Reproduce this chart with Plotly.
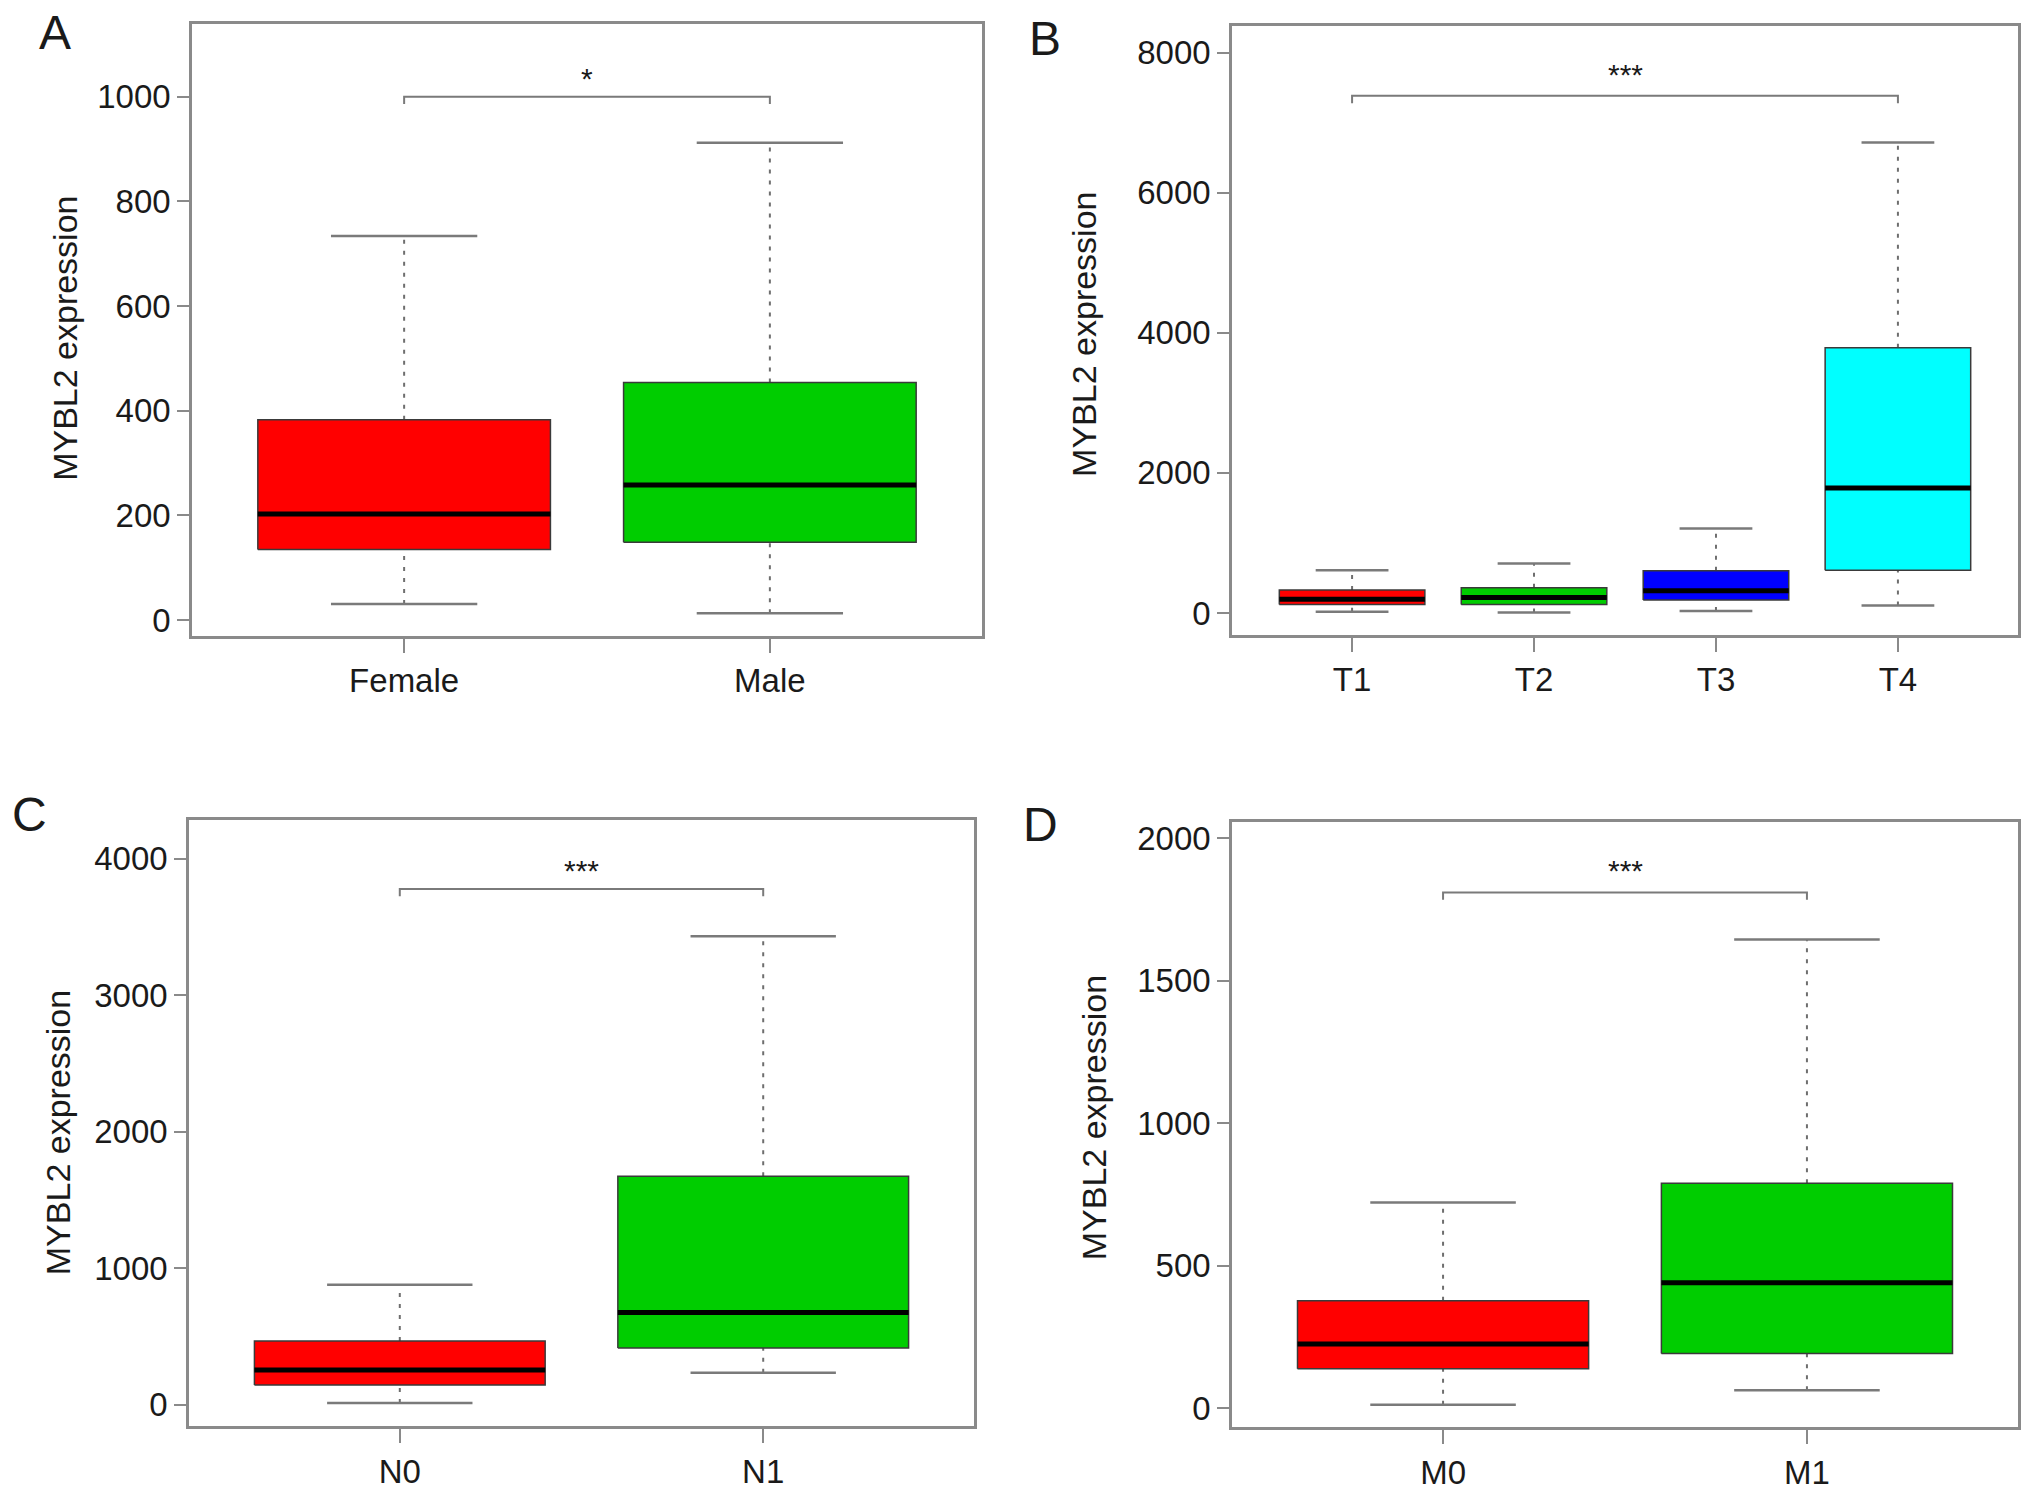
import plotly.graph_objects as go

# ---------------- data ----------------
sex_cats = ["Female", "Male"]
sex_lower = [31, 13]
sex_q1 = [135, 149]
sex_median = [203, 258]
sex_q3 = [383, 454]
sex_upper = [734, 912]

t_cats = ["T1", "T2", "T3", "T4"]
t_lower = [19, 9, 28, 109]
t_q1 = [123, 123, 185, 611]
t_median = [195, 223, 318, 1785]
t_q3 = [327, 360, 602, 3786]
t_upper = [612, 707, 1205, 6717]

n_cats = ["N0", "N1"]
n_lower = [14, 236]
n_q1 = [146, 416]
n_median = [256, 676]
n_q3 = [468, 1674]
n_upper = [880, 3431]

m_cats = ["M0", "M1"]
m_lower = [13, 64]
m_q1 = [139, 193]
m_median = [226, 441]
m_q3 = [378, 790]
m_upper = [722, 1645]

# significance brackets: (first index, last index, bracket y, label y, label)
sex_sig = (0, 1, 1000, 1041, "*")
t_sig = (0, 3, 7382, 7728, "***")
n_sig = (0, 1, 3778, 3934, "***")
m_sig = (0, 1, 1810, 1896, "***")

y_ticks_A = [0, 200, 400, 600, 800, 1000]
y_ticks_B = [0, 2000, 4000, 6000, 8000]
y_ticks_C = [0, 1000, 2000, 3000, 4000]
y_ticks_D = [0, 500, 1000, 1500, 2000]

fills2 = ["#FF0000", "#00CD00"]
fills4 = ["#FF0000", "#00CD00", "#0000FF", "#00FFFF"]

W, H = 2032, 1494
FONT = "Liberation Sans, Arial, Helvetica, sans-serif"
GRAY = "#8a8a8a"
TXT = "#1a1a1a"

panels = [
    dict(name="A", cats=sex_cats, lo=sex_lower, q1=sex_q1, me=sex_median, q3=sex_q3, up=sex_upper,
         sig=sex_sig, ticks=y_ticks_A, yr=[-30, 1139], fills=fills2,
         px=(192, 982), py=(22, 636), title_xy=(65, 338), letter_xy=(55, 31)),
    dict(name="B", cats=t_cats, lo=t_lower, q1=t_q1, me=t_median, q3=t_q3, up=t_upper,
         sig=t_sig, ticks=y_ticks_B, yr=[-312, 8380], fills=fills4,
         px=(1232, 2018), py=(24, 635), title_xy=(1084, 334), letter_xy=(1045, 37)),
    dict(name="C", cats=n_cats, lo=n_lower, q1=n_q1, me=n_median, q3=n_q3, up=n_upper,
         sig=n_sig, ticks=y_ticks_C, yr=[-156, 4281], fills=fills2,
         px=(189, 974), py=(821, 1429), title_xy=(58, 1135), letter_xy=(29, 815)),
    dict(name="D", cats=m_cats, lo=m_lower, q1=m_q1, me=m_median, q3=m_q3, up=m_upper,
         sig=m_sig, ticks=y_ticks_D, yr=[-66, 2056], fills=fills2,
         px=(1232, 2018), py=(823, 1430), title_xy=(1094, 1120), letter_xy=(1040, 825)),
]

fig = go.Figure()
layout = dict(width=W, height=H, margin=dict(l=0, r=0, t=0, b=0),
              paper_bgcolor="white", plot_bgcolor="white", showlegend=False,
              font=dict(family=FONT, color=TXT))
annotations = []

for k, p in enumerate(panels):
    sfx = "" if k == 0 else str(k + 1)
    xa, ya = "x" + sfx, "y" + sfx
    n = len(p["cats"])
    xs = list(range(1, n + 1))
    xr = [0.5 - 0.04 * n, n + 0.5 + 0.04 * n]
    span = p["yr"][1] - p["yr"][0]

    # whiskers (dashed)
    wx, wy = [], []
    for i, c in enumerate(xs):
        wx += [c, c, None, c, c, None]
        wy += [p["q3"][i], p["up"][i], None, p["lo"][i], p["q1"][i], None]
    fig.add_trace(go.Scatter(x=wx, y=wy, mode="lines", xaxis=xa, yaxis=ya,
                             line=dict(color="#6e6e6e", width=2, dash="4px,7px"),
                             hoverinfo="skip"))
    # caps
    cx, cy = [], []
    for i, c in enumerate(xs):
        for v in (p["up"][i], p["lo"][i]):
            cx += [c - 0.2, c + 0.2, None]
            cy += [v, v, None]
    fig.add_trace(go.Scatter(x=cx, y=cy, mode="lines", xaxis=xa, yaxis=ya,
                             line=dict(color="#7a7a7a", width=2.5), hoverinfo="skip"))
    # boxes
    for i, c in enumerate(xs):
        fig.add_trace(go.Scatter(
            x=[c - 0.4, c + 0.4, c + 0.4, c - 0.4, c - 0.4],
            y=[p["q1"][i], p["q1"][i], p["q3"][i], p["q3"][i], p["q1"][i]],
            mode="lines", fill="toself", fillcolor=p["fills"][i],
            line=dict(color="#3a3a3a", width=1.5), xaxis=xa, yaxis=ya, hoverinfo="skip"))
    # medians
    mx, my = [], []
    for i, c in enumerate(xs):
        mx += [c - 0.4, c + 0.4, None]
        my += [p["me"][i], p["me"][i], None]
    fig.add_trace(go.Scatter(x=mx, y=my, mode="lines", xaxis=xa, yaxis=ya,
                             line=dict(color="black", width=5), hoverinfo="skip"))
    # significance bracket
    i0, i1, by, ly, lab = p["sig"]
    drop = 0.012 * span
    x0, x1 = xs[i0], xs[i1]
    fig.add_trace(go.Scatter(x=[x0, x0, x1, x1], y=[by - drop, by, by, by - drop],
                             mode="lines", xaxis=xa, yaxis=ya,
                             line=dict(color="#7a7a7a", width=2), hoverinfo="skip"))
    annotations.append(dict(x=(x0 + x1) / 2, y=ly, xref=xa, yref=ya, text=lab,
                            showarrow=False, yshift=-3,
                            font=dict(size=30, color=TXT, family=FONT)))

    dom_x = [p["px"][0] / W, p["px"][1] / W]
    dom_y = [1 - p["py"][1] / H, 1 - p["py"][0] / H]
    layout["xaxis" + sfx] = dict(domain=dom_x, range=xr, anchor=ya, tickmode="array",
                                 tickvals=xs, ticktext=p["cats"], ticks="outside",
                                 ticklen=14, tickwidth=2, tickcolor=GRAY,
                                 showline=True, linecolor=GRAY, linewidth=2.5, mirror=True,
                                 showgrid=False, zeroline=False,
                                 tickfont=dict(size=33, color=TXT, family=FONT))
    layout["yaxis" + sfx] = dict(domain=dom_y, range=p["yr"], anchor=xa, tickmode="array",
                                 tickvals=p["ticks"], ticktext=[str(v) for v in p["ticks"]],
                                 ticks="outside", ticklen=12, tickwidth=2, tickcolor=GRAY,
                                 showline=True, linecolor=GRAY, linewidth=2.5, mirror=True,
                                 showgrid=False, zeroline=False,
                                 tickfont=dict(size=33, color=TXT, family=FONT))
    tx, ty = p["title_xy"]
    annotations.append(dict(x=tx / W, y=1 - ty / H, xref="paper", yref="paper",
                            text="MYBL2 expression", textangle=-90, showarrow=False,
                            xanchor="center", yanchor="middle",
                            font=dict(size=34, color=TXT, family=FONT)))
    lx, lyy = p["letter_xy"]
    annotations.append(dict(x=lx / W, y=1 - lyy / H, xref="paper", yref="paper",
                            text=p["name"], showarrow=False, xanchor="center", yanchor="middle",
                            font=dict(size=48, color=TXT, family=FONT)))

layout["annotations"] = annotations
fig.update_layout(**layout)
fig.write_html("out.html", config={"displayModeBar": False},
               post_script="document.body.style.margin='0px';")
